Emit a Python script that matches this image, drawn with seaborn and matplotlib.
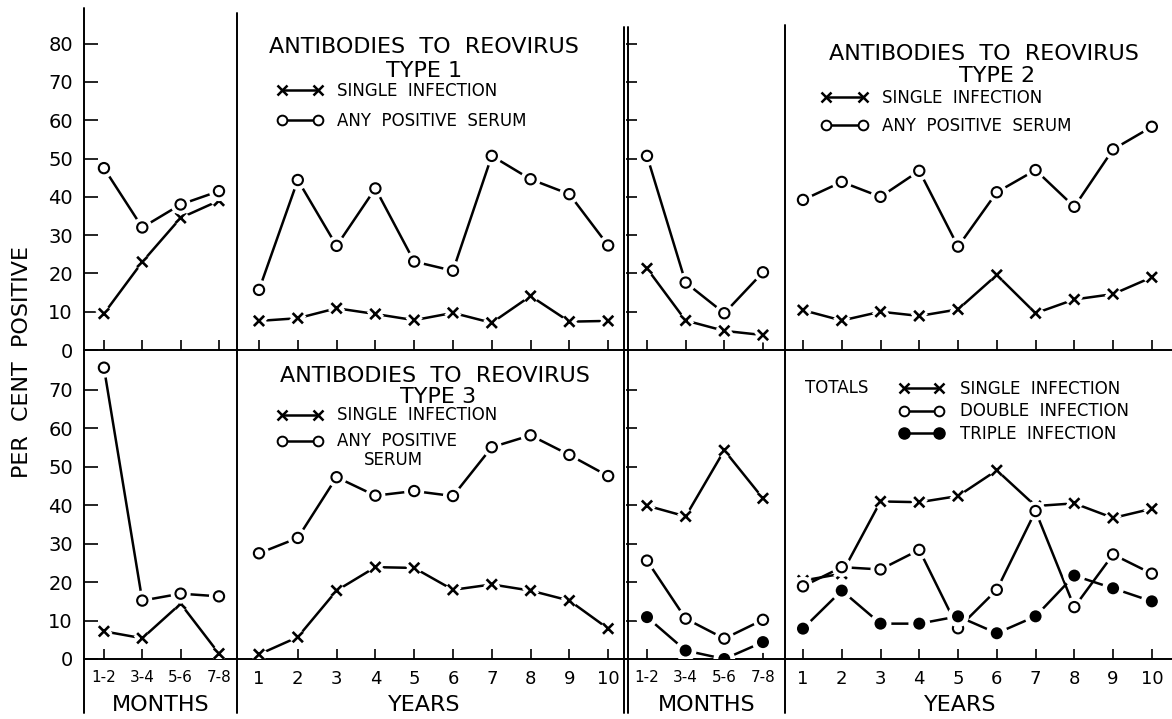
import matplotlib
matplotlib.use("Agg")
import matplotlib.pyplot as plt
import matplotlib.patheffects as pe
from matplotlib.lines import Line2D
import seaborn as sns

sns.set_style("white")
plt.rcParams['font.family'] = ['DejaVu Sans']
plt.rcParams['text.color'] = 'black'
plt.rcParams['axes.labelcolor'] = 'black'
plt.rcParams['xtick.color'] = 'black'
plt.rcParams['ytick.color'] = 'black'

months = ["1-2", "3-4", "5-6", "7-8"]
years = [1, 2, 3, 4, 5, 6, 7, 8, 9, 10]

# reovirus type 1
t1_single_months = [9.5, 23, 34.5, 39]
t1_any_months = [47.5, 32, 38, 41.5]
t1_single_years = [7.6, 8.3, 10.9, 9.4, 7.8, 9.7, 7.1, 14.1, 7.4, 7.6]
t1_any_years = [15.7, 44.4, 27.2, 42.2, 23.1, 20.7, 50.7, 44.6, 40.7, 27.3]
# reovirus type 2
t2_single_months = [21.3, 7.7, 5.0, 3.9]
t2_any_months = [50.7, 17.6, 9.6, 20.3]
t2_single_years = [10.4, 7.7, 10.0, 8.9, 10.6, 19.6, 9.6, 13.2, 14.6, 19.0]
t2_any_years = [39.2, 43.9, 40.0, 46.8, 27.0, 41.2, 47.0, 37.4, 52.4, 58.3]
# reovirus type 3
t3_single_months = [7.2, 5.4, 14.4, 1.4]
t3_any_months = [75.8, 15.2, 17.0, 16.3]
t3_single_years = [1.2, 5.7, 17.8, 23.9, 23.7, 18.0, 19.4, 17.8, 15.2, 7.9]
t3_any_years = [27.5, 31.5, 47.3, 42.5, 43.7, 42.4, 55.1, 58.2, 53.1, 47.6]
# totals
tot_single_months = [39.9, 37.1, 54.3, 41.8]
tot_double_months = [25.6, 10.5, 5.3, 10.2]
tot_triple_months = [10.9, 2.2, 0.0, 4.4]
tot_single_years = [20.4, 22.2, 41.0, 40.8, 42.4, 49.1, 39.8, 40.5, 36.7, 39.1]
tot_double_years = [18.9, 23.9, 23.3, 28.4, 8.0, 18.0, 38.5, 13.5, 27.2, 22.2]
tot_triple_years = [7.9, 17.8, 9.2, 9.2, 11.1, 6.7, 11.1, 21.7, 18.4, 15.0]

W, H = 1172, 719
fig = plt.figure(figsize=(W / 100, H / 100), dpi=100)

cols = [(84, 237), (237, 626), (626, 785), (785, 1172)]
rows = [(10, 350), (350, 659)]
xlims = [(-0.52, 3.47), (0.433, 10.46), (-0.543, 3.57), (0.536, 10.52)]
ylims = [(0, 88.8), (0, 80.4)]

marker_kw = {
    'x': dict(marker='x', s=55, color='black', linewidth=1.9),
    'o': dict(marker='o', s=55, facecolor='white', edgecolor='black', linewidth=1.5),
    'dot': dict(marker='o', s=75, color='black', linewidth=0),
}
halo = [pe.Stroke(linewidth=7, foreground='white'), pe.Normal()]


def series(ax, x, y, kind):
    sns.lineplot(x=x, y=y, ax=ax, color='black', linewidth=1.8, sort=False)
    sns.scatterplot(x=x, y=y, ax=ax, zorder=3, legend=False, **marker_kw[kind])
    ax.collections[-1].set_path_effects(halo)


def handle(kind):
    if kind == 'x':
        return Line2D([], [], color='black', lw=1.8, marker='x', ms=7, mew=1.8)
    if kind == 'o':
        return Line2D([], [], color='black', lw=1.8, marker='o', ms=7, mfc='white', mew=1.4)
    return Line2D([], [], color='black', lw=1.8, marker='o', ms=8)


axes = {}
for r in range(2):
    for c in range(4):
        x0, x1 = cols[c]
        y0, y1 = rows[r]
        ax = fig.add_axes([x0 / W, 1 - y1 / H, (x1 - x0) / W, (y1 - y0) / H])
        ax.set_facecolor('none')
        axes[(r, c)] = ax

panels = {
    (0, 0): [(t1_single_months, 'x'), (t1_any_months, 'o')],
    (0, 1): [(t1_single_years, 'x'), (t1_any_years, 'o')],
    (0, 2): [(t2_single_months, 'x'), (t2_any_months, 'o')],
    (0, 3): [(t2_single_years, 'x'), (t2_any_years, 'o')],
    (1, 0): [(t3_single_months, 'x'), (t3_any_months, 'o')],
    (1, 1): [(t3_single_years, 'x'), (t3_any_years, 'o')],
    (1, 2): [(tot_single_months, 'x'), (tot_double_months, 'o'), (tot_triple_months, 'dot')],
    (1, 3): [(tot_single_years, 'x'), (tot_double_years, 'o'), (tot_triple_years, 'dot')],
}

for (r, c), ax in axes.items():
    xs = list(range(len(months))) if c in (0, 2) else years
    for vals, kind in panels[(r, c)]:
        series(ax, xs, vals, kind)
    ax.set_xlim(*xlims[c])
    ax.set_ylim(*ylims[r])
    ax.set_xlabel('')
    ax.set_ylabel('')
    for s in ('left', 'right', 'top'):
        ax.spines[s].set_visible(False)
    ax.spines['bottom'].set_linewidth(1.4)
    ax.spines['bottom'].set_color('black')
    ax.set_xticks(xs)
    if c in (0, 2):
        ax.set_xticklabels(months)
        lsize = 11
    else:
        ax.set_xticklabels([str(y) for y in years])
        lsize = 13
    ax.tick_params(axis='x', direction='in', length=7, width=1.2, pad=8,
                   labelsize=lsize, labelbottom=(r == 1), bottom=True)
    top = 90 if r == 0 else 80
    if c == 0:
        ax.set_yticks(range(0, top, 10))
        ax.tick_params(axis='y', direction='in', length=10, width=1.2, pad=8,
                       labelsize=14, left=True)
    elif c == 2:
        ax.set_yticks(range(10, top, 10))
        ax.tick_params(axis='y', direction='in', length=8, width=1.2,
                       labelleft=False, left=True)
    else:
        ax.set_yticks([])

# axis titles under the bottom row
for c, (name, xc) in enumerate([("MONTHS", 0.5), ("YEARS", 0.481), ("MONTHS", 0.51), ("YEARS", 0.452)]):
    ax = axes[(1, c)]
    ax.set_xlabel(name, fontsize=16)
    ax.xaxis.set_label_coords(xc, -0.115)

fig.text(22 / W, 1 - 362 / H, "PER  CENT  POSITIVE", rotation=90, ha='center', va='center', fontsize=16)

# vertical panel rules
for x, ytop in [(84, 8), (237, 13), (624, 27), (628, 27), (785, 25)]:
    fig.add_artist(Line2D([x / W, x / W], [1 - ytop / H, 1 - 713 / H], color='black', lw=1.4))

# titles and keys
title_kw = dict(ha='center', va='baseline', fontsize=16)
ax = axes[(0, 1)]
ax.text(0.481, 0.874, "ANTIBODIES  TO  REOVIRUS", transform=ax.transAxes, **title_kw)
ax.text(0.481, 0.803, "TYPE 1", transform=ax.transAxes, **title_kw)
ax.legend([handle('x'), handle('o')], ["SINGLE  INFECTION", "ANY  POSITIVE  SERUM"],
          loc='center left', bbox_to_anchor=(0.103, 0.718), frameon=False, numpoints=2,
          handlelength=2.76, handletextpad=0.84, labelspacing=0.75, borderpad=0,
          borderaxespad=0, fontsize=12)

ax = axes[(0, 3)]
ax.text(0.515, 0.853, "ANTIBODIES  TO  REOVIRUS", transform=ax.transAxes, **title_kw)
ax.text(0.548, 0.788, "TYPE 2", transform=ax.transAxes, **title_kw)
ax.legend([handle('x'), handle('o')], ["SINGLE  INFECTION", "ANY  POSITIVE  SERUM"],
          loc='center left', bbox_to_anchor=(0.093, 0.701), frameon=False, numpoints=2,
          handlelength=2.82, handletextpad=0.84, labelspacing=0.6, borderpad=0,
          borderaxespad=0, fontsize=12)

ax = axes[(1, 1)]
ax.text(0.508, 0.896, "ANTIBODIES  TO  REOVIRUS", transform=ax.transAxes, **title_kw)
ax.text(0.517, 0.828, "TYPE 3", transform=ax.transAxes, **title_kw)
ax.legend([handle('x'), handle('o')], ["SINGLE  INFECTION", "ANY  POSITIVE"],
          loc='center left', bbox_to_anchor=(0.103, 0.746), frameon=False, numpoints=2,
          handlelength=2.76, handletextpad=0.84, labelspacing=0.48, borderpad=0,
          borderaxespad=0, fontsize=12)
ax.text(0.403, 0.643, "SERUM", transform=ax.transAxes, ha='center', va='center', fontsize=12)

ax = axes[(1, 3)]
ax.text(0.052, 0.877, "TOTALS", transform=ax.transAxes, ha='left', va='center', fontsize=12)
ax.legend([handle('x'), handle('o'), handle('dot')],
          ["SINGLE  INFECTION", "DOUBLE  INFECTION", "TRIPLE  INFECTION"],
          loc='center left', bbox_to_anchor=(0.295, 0.801), frameon=False, numpoints=2,
          handlelength=2.7, handletextpad=0.96, labelspacing=0.27, borderpad=0,
          borderaxespad=0, fontsize=12)

fig.savefig("out.png", dpi=100, facecolor='white')
